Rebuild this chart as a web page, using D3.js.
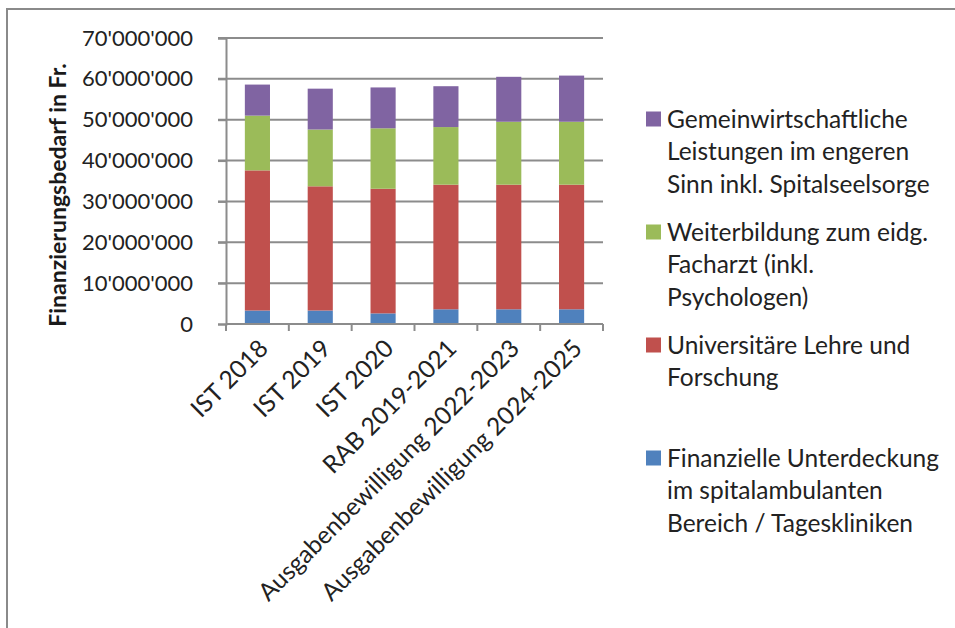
<!DOCTYPE html>
<html>
<head>
<meta charset="utf-8">
<script src="https://cdn.jsdelivr.net/npm/d3@7"></script>
<style>
  body { margin: 0; background: #fff; }
  svg { font-family: Lato, "Open Sans", sans-serif; }
</style>
</head>
<body>
<svg id="chart" width="955" height="628"></svg>
<script>
const categories = [
  "IST 2018",
  "IST 2019",
  "IST 2020",
  "RAB 2019-2021",
  "Ausgabenbewilligung 2022-2023",
  "Ausgabenbewilligung 2024-2025"
];
const seriesKeys = ["unterdeckung", "lehre", "weiterbildung", "gwl"];
// values in Fr.
const unterdeckung = [3300000, 3300000, 2600000, 3600000, 3600000, 3600000];
const lehre = [34300000, 30400000, 30500000, 30500000, 30500000, 30500000];
const weiterbildung = [13400000, 13900000, 14800000, 14100000, 15400000, 15400000];
const gwl = [7600000, 10000000, 10000000, 10000000, 11000000, 11300000];
const yTicks = [0, 10000000, 20000000, 30000000, 40000000, 50000000, 60000000, 70000000];
const legendLabels = [
  ["Gemeinwirtschaftliche", "Leistungen im engeren", "Sinn inkl. Spitalseelsorge"],
  ["Weiterbildung zum eidg.", "Facharzt (inkl.", "Psychologen)"],
  ["Universitäre Lehre und", "Forschung"],
  ["Finanzielle Unterdeckung", "im spitalambulanten", "Bereich / Tageskliniken"]
];
const legendKeys = ["gwl", "weiterbildung", "lehre", "unterdeckung"];
const colors = {
  unterdeckung: "#4f81bd",
  lehre: "#c0504d",
  weiterbildung: "#9bbb59",
  gwl: "#8064a2"
};

const rows = categories.map((c, i) => ({
  cat: c,
  unterdeckung: unterdeckung[i],
  lehre: lehre[i],
  weiterbildung: weiterbildung[i],
  gwl: gwl[i]
}));

const svg = d3.select("#chart");
const plotLeft = 226, plotRight = 603, plotTop = 38, plotBottom = 324;

// outer frame (cut off at right / bottom)
svg.append("path")
  .attr("d", "M7,640 L7,9 L960,9")
  .attr("fill", "none")
  .attr("stroke", "#8a8a8a")
  .attr("stroke-width", 2);

const x = d3.scaleBand()
  .domain(categories)
  .range([plotLeft, plotRight])
  .paddingInner(0.6)
  .paddingOuter(0.3);

const y = d3.scaleLinear().domain([0, 70000000]).range([plotBottom, plotTop]);

const fmt = (v) => d3.format(",")(v).replace(/,/g, "'");

// gridlines
svg.append("g")
  .selectAll("line")
  .data(yTicks.slice(1))
  .join("line")
  .attr("x1", plotLeft - 8)
  .attr("x2", plotRight)
  .attr("y1", (d) => y(d))
  .attr("y2", (d) => y(d))
  .attr("stroke", "#8c8c8c")
  .attr("stroke-width", 2);

// y axis
const yAxis = svg.append("g")
  .attr("transform", `translate(${plotLeft},0)`)
  .call(d3.axisLeft(y).tickValues(yTicks).tickFormat(fmt).tickSize(8).tickPadding(25));
yAxis.select(".domain").attr("stroke", "#8c8c8c").attr("stroke-width", 2);
yAxis.selectAll(".tick line").attr("stroke", "#8c8c8c").attr("stroke-width", 2);
yAxis.selectAll(".tick text")
  .attr("font-family", "Lato, sans-serif")
  .attr("font-size", 22)
  .attr("fill", "#222");

// bars
const stack = d3.stack().keys(seriesKeys);
const stacked = stack(rows);

svg.append("g")
  .selectAll("g")
  .data(stacked)
  .join("g")
  .attr("fill", (d) => colors[d.key])
  .selectAll("rect")
  .data((d) => d)
  .join("rect")
  .attr("x", (d) => x(d.data.cat))
  .attr("width", x.bandwidth())
  .attr("y", (d) => y(d[1]))
  .attr("height", (d) => y(d[0]) - y(d[1]));

// x axis
const xg = svg.append("g").attr("transform", `translate(0,${plotBottom})`);
xg.append("line")
  .attr("x1", plotLeft).attr("x2", plotRight)
  .attr("stroke", "#8c8c8c").attr("stroke-width", 2);
const step = x.step();
xg.selectAll(".xtick")
  .data(d3.range(categories.length + 1))
  .join("line")
  .attr("x1", (i) => plotLeft + i * step)
  .attr("x2", (i) => plotLeft + i * step)
  .attr("y1", 0).attr("y2", 7)
  .attr("stroke", "#8c8c8c").attr("stroke-width", 2);
xg.selectAll(".xlabel")
  .data(categories)
  .join("text")
  .attr("transform", (d) => `translate(${x(d) + x.bandwidth() / 2 + 6},${20}) rotate(-45)`)
  .attr("text-anchor", "end")
  .attr("dy", "0.35em")
  .attr("font-size", 24.5)
  .attr("fill", "#222")
  .text((d) => d);

// y label
svg.append("text")
  .attr("transform", "translate(58,195) rotate(-90)")
  .attr("text-anchor", "middle")
  .attr("dy", "0.35em")
  .attr("font-size", 23)
  .attr("font-weight", "bold")
  .attr("fill", "#1a1a1a")
  .text("Finanzierungsbedarf in Fr.");

// legend
const legendY = [119, 232, 345, 458];
const lineH = 32.7;
const lg = svg.append("g");
legendKeys.forEach((k, i) => {
  lg.append("rect")
    .attr("x", 646)
    .attr("y", legendY[i] - 7.5)
    .attr("width", 15)
    .attr("height", 15)
    .attr("fill", colors[k]);
  const t = lg.append("text")
    .attr("font-size", 24.5)
    .attr("fill", "#222");
  legendLabels[i].forEach((line, j) => {
    t.append("tspan")
      .attr("x", 667)
      .attr("y", legendY[i] + j * lineH)
      .attr("dy", "0.35em")
      .text(line);
  });
});
</script>
</body>
</html>
